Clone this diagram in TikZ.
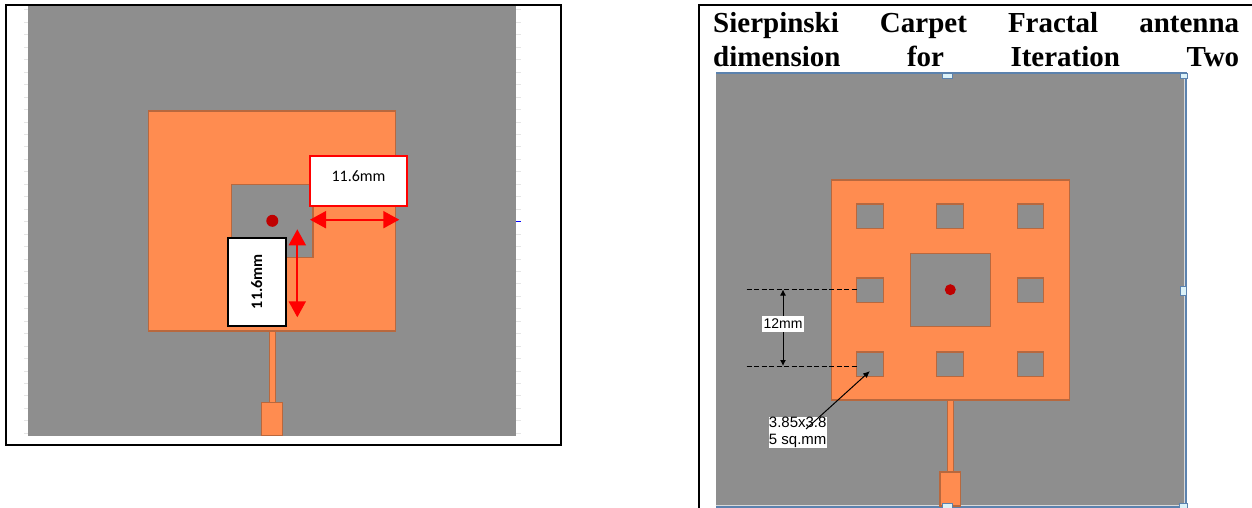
\documentclass[tikz,border=0pt]{standalone}
\usepackage{fontspec}
\setmainfont{Liberation Serif}
\newfontfamily\calibrifont{Carlito}
\newfontfamily\arialfont{Liberation Sans}
\usetikzlibrary{arrows.meta}
\definecolor{board}{HTML}{8E8E8E}
\definecolor{patch}{HTML}{FF8C50}
\definecolor{patchedge}{HTML}{B8683E}
\definecolor{handle}{HTML}{DCF2F8}
\definecolor{handleedge}{HTML}{5B82AE}
\tikzset{
  frameline/.style={draw=black,line width=2pt},
  ground/.style={rectangle,fill=board,inner sep=0pt},
  metal/.style={rectangle,draw=patchedge,fill=patch,line width=1.2pt,inner sep=0pt},
  slot/.style={rectangle,draw=patchedge,fill=board,line width=1.2pt,inner sep=0pt},
  feed/.style={circle,fill=red!75!black,inner sep=0pt,minimum size=11pt},
  tick/.style={draw=black!10,line width=1pt},
  grip/.style={rectangle,draw=handleedge,fill=handle,line width=0.6pt,inner sep=0pt,minimum width=10pt,minimum height=5pt},
  redarrow/.style={draw=red,line width=2pt,{Triangle[length=16pt,width=17pt]}-{Triangle[length=16pt,width=17pt]}},
  blackarrow/.style={draw=black,line width=1pt,{Latex[length=6pt,width=6pt]}-{Latex[length=6pt,width=6pt]}},
  leader/.style={draw=black,line width=1pt,dash pattern=on 5pt off 2.5pt},
}
\begin{document}
\begin{tikzpicture}[x=1pt,y=-1pt]
\useasboundingbox (0,0) rectangle (1252,508);

% left picture
\node[rectangle,frameline,minimum width=555pt,minimum height=440pt,inner sep=0pt] (frameA) at (283,225) {};
\foreach \k in {0,...,34} {
  \draw[tick] (24,10+12.45*\k) -- (28,10+12.45*\k);
  \draw[tick] (516,10+12.45*\k) -- (521,10+12.45*\k);
}
\node[ground,minimum width=488pt,minimum height=430pt] (boardA) at (272,221) {};
\draw[draw=blue,line width=1pt] (boardA.east) -- ++(5,0);
\node[metal,minimum width=6pt,minimum height=72pt] (lineA) at (272.5,367) {};
\node[metal,minimum width=21pt,minimum height=33.5pt] (portA) at (272,419) {};
\node[metal,minimum width=247pt,minimum height=220pt] (patchA) at (271.7,221) {};
\node[slot,minimum width=81.5pt,minimum height=73pt] (holeA) at (272.2,221) {};
\node[feed,minimum size=12pt] (dotA) at (272.3,220.8) {};

\coordinate (w1) at (310,219.7);
\coordinate (w2) at (399.3,219.7);
\coordinate (h1) at (297.3,229.3);
\coordinate (h2) at (297.3,317.3);
\draw[redarrow] (w1) -- (w2);
\node[rectangle,draw=red,fill=white,line width=2pt,minimum width=97pt,minimum height=50.5pt,inner sep=0pt] (widthbox) at (358,181) {};
\node[font=\calibrifont\fontsize{16}{18}\selectfont,inner sep=0pt] (widthlabel) at (358.5,176) {11.6mm};
\node[rectangle,draw=black,fill=white,line width=2pt,minimum width=58pt,minimum height=88pt,inner sep=0pt] (heightbox) at (256.5,281.7) {};
\node[font=\calibrifont\bfseries\fontsize{16}{18}\selectfont,rotate=90,inner sep=0pt] (heightlabel) at (256.7,281.7) {11.6mm};
\draw[redarrow] (h1) -- (h2);

% right picture
\coordinate (frameBa) at (699,510);
\coordinate (frameBb) at (699,5);
\coordinate (frameBc) at (1254,5);
\draw[frameline] (frameBa) -- (frameBb) -- (frameBc);
\node[font=\bfseries\fontsize{29}{34}\selectfont,text width=526pt,align=justify,inner sep=0pt,anchor=north west] (title) at (713,12)
  {Sierpinski\hfill Carpet\hfill Fractal\hfill antenna\\dimension\hfill for\hfill Iteration\hfill Two};
\node[ground,minimum width=468pt,minimum height=431pt] (boardB) at (950,289.5) {};
\coordinate (edgeBa) at (716,507);
\coordinate (edgeBb) at (1186,507);
\coordinate (edgeBc) at (1186,73);
\coordinate (edgeBd) at (716,73);
\draw[draw=handleedge,line width=1.2pt] (edgeBa) -- (edgeBb) -- (edgeBc) -- (edgeBd);
\draw[draw=black!15,line width=1.2pt] (boardB.south west) -- (boardB.south east) -- (boardB.north east);
\node[metal,minimum width=6pt,minimum height=72pt] (lineB) at (950.3,436) {};
\node[metal,minimum width=20.5pt,minimum height=34pt] (portB) at (950.3,489) {};
\node[metal,minimum width=238pt,minimum height=220pt] (patchB) at (950.3,290) {};
\node[slot,minimum width=80pt,minimum height=73pt] (holeB) at (950.3,290.3) {};
\node[slot,minimum width=26.6pt,minimum height=24.3pt] (s11) at (870,216.2) {};
\node[slot,minimum width=26.6pt,minimum height=24.3pt] (s12) at (950,216.2) {};
\node[slot,minimum width=26.6pt,minimum height=24.3pt] (s13) at (1030.5,216.2) {};
\node[slot,minimum width=26.6pt,minimum height=24.3pt] (s21) at (870,290.2) {};
\node[slot,minimum width=26.6pt,minimum height=24.3pt] (s23) at (1030.5,290.2) {};
\node[slot,minimum width=26.6pt,minimum height=24.3pt] (s31) at (870,364.2) {};
\node[slot,minimum width=26.6pt,minimum height=24.3pt] (s32) at (950,364.2) {};
\node[slot,minimum width=26.6pt,minimum height=24.3pt] (s33) at (1030.5,364.2) {};
\node[feed] (dotB) at (950.3,289.7) {};

\node[grip] (gt) at (947.5,75.5) {};
\node[grip] (gb) at (947.5,505.5) {};
\node[grip,minimum width=6pt,minimum height=9pt] (gr) at (1183.7,290.5) {};
\node[grip,minimum width=7pt] (gc) at (1183.5,75.5) {};
\node[grip,minimum width=8pt] (gd) at (1183,505.5) {};

\coordinate (d1) at (746.7,289.5);
\coordinate (d2) at (746.7,366);
\coordinate (e1) at (856.7,289.5);
\coordinate (e2) at (856.7,366);
\coordinate (u1) at (783,289.5);
\coordinate (u2) at (783,366);
\draw[leader] (d1) -- (e1);
\draw[leader] (d2) -- (e2);
\draw[blackarrow] (u1) -- (u2);
\node[rectangle,fill=white,font=\arialfont\fontsize{14}{16}\selectfont,minimum width=42pt,minimum height=16pt,inner sep=0pt] (gaplabel) at (783,324) {12mm};
\node[rectangle,fill=white,font=\arialfont\fontsize{15}{17.5}\selectfont,align=left,minimum width=58pt,minimum height=31.5pt,inner sep=0pt] (sizelabel) at (797.7,432.5) {3.85x3.8\\5 sq.mm};
\coordinate (p1) at (806,429);
\coordinate (p2) at (870,371);
\draw[draw=black,line width=1pt,-{Latex[length=7pt,width=6pt]}] (p1) -- (p2);
\end{tikzpicture}
\end{document}
